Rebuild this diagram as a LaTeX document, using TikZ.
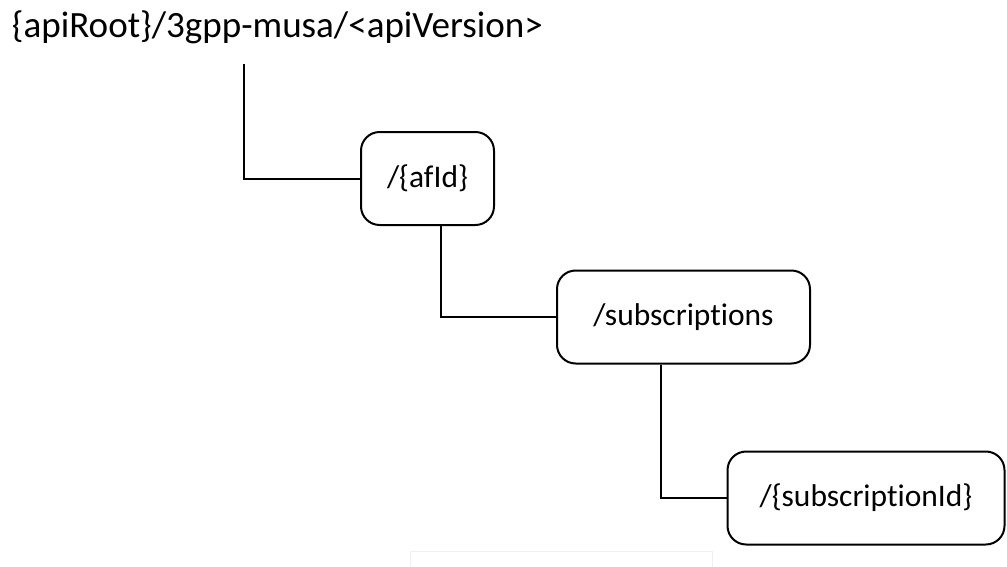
\documentclass[tikz,border=0pt]{standalone}
\usepackage{fontspec}
\setmainfont[Ligatures=NoCommon]{Carlito}
\usepackage{tikz}

\begin{document}
\begin{tikzpicture}[x=0.75pt,y=-0.75pt,line width=1.5pt,
	res/.style={draw,rounded corners=14pt,minimum height=69.75pt,inner sep=0pt,font=\fontsize{23.6}{28}\selectfont},
	link/.style={draw,line width=1.5pt}]
	\useasboundingbox (0,0) rectangle (1007,567);
	\node[anchor=base west,inner sep=0pt,font=\fontsize{27.8}{33}\selectfont] (root) at (11,38) {\{apiRoot\}/3gpp-musa/<apiVersion>};
	\coordinate (rootfoot) at (244,64);

	\node[res,minimum width=99.75pt] (afid) at (427.5,178.5) {/\{afId\}};
	\node[res,minimum width=189.75pt] (subs) at (683.5,317) {/subscriptions};
	\node[res,minimum width=207.75pt] (subid) at (866,498) {/\{subscriptionId\}};

	\draw[link] (rootfoot) |- (afid.west);
	\draw[link] ([xshift=10pt]afid.south) |- (subs.west);
	\draw[link] ([xshift=-17pt]subs.south) |- (subid.west);

	\draw[line width=0.75pt,black!6] (410,567) |- (712,551) -- (712,567);
\end{tikzpicture}
\end{document}
